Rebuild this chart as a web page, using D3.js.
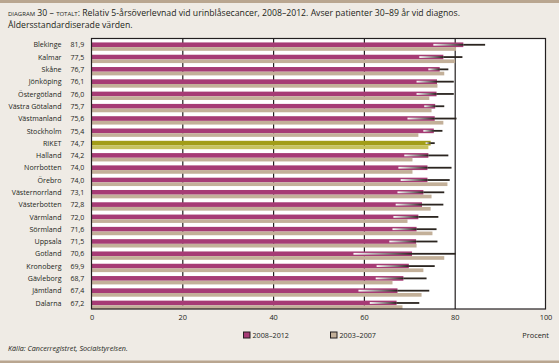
<!DOCTYPE html>
<html>
<head>
<meta charset="utf-8">
<script src="https://cdn.jsdelivr.net/npm/d3@7"></script>
<style>
  body { margin: 0; background: #efebe5; }
  svg { display: block; font-family: "Open Sans", sans-serif; }
</style>
</head>
<body>
<div id="chart"></div>
<script>
// data
var regions = ["Blekinge", "Kalmar", "Skåne", "Jönköping", "Östergötland", "Västra Götaland",
    "Västmanland", "Stockholm", "RIKET", "Halland", "Norrbotten", "Örebro", "Västernorrland",
    "Västerbotten", "Värmland", "Sörmland", "Uppsala", "Gotland", "Kronoberg", "Gävleborg",
    "Jämtland", "Dalarna"];
var surv2008 = [81.9, 77.5, 76.7, 76.1, 76.0, 75.7, 75.6, 75.4, 74.7, 74.2, 74.0, 74.0, 73.1,
    72.8, 72.0, 71.6, 71.5, 70.6, 69.9, 68.7, 67.4, 67.2];
var surv2003 = [80.3, 80.1, 77.7, 76.2, 74.4, 74.9, 77.5, 72.0, 74.2, 70.7, 70.7, 78.4, 74.9,
    74.7, 69.6, 75.1, 71.6, 77.7, 73.1, 66.3, 72.7, 68.5];
var ciLow = [75.3, 72.2, 74.2, 71.6, 71.6, 73.3, 69.6, 73.1, 73.6, 68.9, 67.6, 68.1, 67.4,
    67.0, 66.5, 66.3, 65.6, 57.7, 62.8, 62.6, 58.8, 61.3];
var ciHigh = [86.7, 81.7, 78.6, 79.8, 79.8, 77.7, 80.4, 77.3, 75.6, 78.6, 79.3, 78.9, 77.7,
    77.5, 76.4, 76.0, 76.2, 80.2, 75.6, 73.8, 74.4, 72.2];
var xTicks = [0, 20, 40, 60, 80, 100];
var seriesNames = ["2008–2012", "2003–2007"];

var svgWidth = 559;
var svgHeight = 363;
var margin = { top: 38.5, right: 14, bottom: 54, left: 91.5 };
var width = 454;
var height = svgHeight - margin.top - margin.bottom;

var dark = "#231f20";
var magenta = "#a63b75";
var tan = "#c3b099";
var olive = "#a29d17";
var lightOlive = "#c7c35f";

var rows = regions.map(function(r, i) {
    return { region: r, v1: surv2008[i], v0: surv2003[i], lo: ciLow[i], hi: ciHigh[i] };
});

var svg = d3.select("#chart")
    .append("svg")
    .attr("width", svgWidth)
    .attr("height", svgHeight);

// top and bottom rules
svg.append("rect").attr("x", 0).attr("y", 0).attr("width", svgWidth).attr("height", 3).attr("fill", "#b9a690");
svg.append("rect").attr("x", 0).attr("y", 360.5).attr("width", svgWidth).attr("height", 3).attr("fill", "#b9a690");

// gradient for the confidence lines
var grad = svg.append("defs").append("linearGradient")
    .attr("id", "ciGrad")
    .attr("x1", "0").attr("x2", "1").attr("y1", "0").attr("y2", "0");
grad.append("stop").attr("offset", "0").attr("stop-color", "#ffffff");
grad.append("stop").attr("offset", "1").attr("stop-color", "#2b2520");

// title
var title = svg.append("text")
    .attr("x", 8)
    .attr("y", 16)
    .attr("font-size", "8.7px")
    .attr("fill", dark);
title.append("tspan")
    .style("font-variant", "small-caps")
    .text("diagram 30 – totalt:");
title.append("tspan")
    .text(" Relativ 5-årsöverlevnad vid urinblåsecancer, 2008–2012. Avser patienter 30–89 år vid diagnos.");
svg.append("text")
    .attr("x", 8)
    .attr("y", 28)
    .attr("font-size", "8.7px")
    .attr("fill", dark)
    .text("Åldersstandardiserade värden.");

var chartGroup = svg.append("g")
    .attr("transform", `translate(${margin.left},${margin.top})`);

var xScale = d3.scaleLinear()
    .domain([0, 100])
    .range([0, width]);

var yScale = d3.scaleBand()
    .domain(regions)
    .range([0, height]);

var bw = yScale.bandwidth();

// plot background
chartGroup.append("rect")
    .attr("width", width)
    .attr("height", height)
    .attr("fill", "#ffffff");

// gridlines
chartGroup.append("g")
    .call(d3.axisBottom(xScale).tickValues([20, 40, 60, 80]).tickSize(height).tickFormat(""))
    .call(g => g.select(".domain").remove())
    .call(g => g.selectAll("line").attr("stroke", dark).attr("stroke-width", 1.2));

// bars
chartGroup.selectAll(".bar1")
    .data(rows)
    .enter()
    .append("rect")
    .attr("class", "bar1")
    .attr("x", 0)
    .attr("y", d => yScale(d.region) + bw * 0.32)
    .attr("width", d => xScale(d.v1))
    .attr("height", bw * 0.38)
    .attr("fill", d => d.region === "RIKET" ? olive : magenta);

chartGroup.selectAll(".bar0")
    .data(rows)
    .enter()
    .append("rect")
    .attr("class", "bar0")
    .attr("x", 0)
    .attr("y", d => yScale(d.region) + bw * 0.70)
    .attr("width", d => xScale(d.v0))
    .attr("height", bw * 0.30)
    .attr("fill", d => d.region === "RIKET" ? lightOlive : tan);

// confidence intervals: fade in up to the estimate, solid after it
chartGroup.selectAll(".ciLeft")
    .data(rows)
    .enter()
    .append("rect")
    .attr("class", "ciLeft")
    .attr("x", d => xScale(d.lo))
    .attr("y", d => yScale(d.region) + bw * 0.51 - 0.9)
    .attr("width", d => xScale(d.v1) - xScale(d.lo))
    .attr("height", 1.8)
    .attr("fill", "url(#ciGrad)");

chartGroup.selectAll(".ciRight")
    .data(rows)
    .enter()
    .append("rect")
    .attr("class", "ciRight")
    .attr("x", d => xScale(d.v1))
    .attr("y", d => yScale(d.region) + bw * 0.51 - 0.9)
    .attr("width", d => xScale(d.hi) - xScale(d.v1))
    .attr("height", 1.8)
    .attr("fill", "#2b2520");

// frame
chartGroup.append("rect")
    .attr("width", width)
    .attr("height", height)
    .attr("fill", "none")
    .attr("stroke", dark)
    .attr("stroke-width", 1.2);

// region names and values
chartGroup.selectAll(".regionLabel")
    .data(rows)
    .enter()
    .append("text")
    .attr("class", "regionLabel")
    .attr("x", -30)
    .attr("y", d => yScale(d.region) + bw * 0.5 + 2.8)
    .attr("text-anchor", "end")
    .attr("font-size", "7.1px")
    .attr("fill", dark)
    .text(d => d.region);

chartGroup.selectAll(".valueLabel")
    .data(rows)
    .enter()
    .append("text")
    .attr("class", "valueLabel")
    .attr("x", -21)
    .attr("y", d => yScale(d.region) + bw * 0.5 + 2.8)
    .attr("font-size", "7px")
    .attr("fill", dark)
    .text(d => d.v1.toFixed(1).replace(".", ","));

// x axis labels
chartGroup.append("g")
    .attr("transform", `translate(0, ${height})`)
    .call(d3.axisBottom(xScale).tickValues(xTicks).tickSize(0).tickPadding(6))
    .call(g => g.select(".domain").remove())
    .call(g => g.selectAll("text").attr("font-size", "7.4px").attr("fill", dark).attr("font-family", "Open Sans"));

// legend
var legend = svg.append("g");
var legendX = [243.5, 330.5];
var legendColors = [magenta, tan];
seriesNames.forEach(function(name, i) {
    legend.append("rect")
        .attr("x", legendX[i])
        .attr("y", 332)
        .attr("width", 6.5)
        .attr("height", 6)
        .attr("fill", legendColors[i])
        .attr("stroke", dark)
        .attr("stroke-width", 1);
    legend.append("text")
        .attr("x", legendX[i] + 9)
        .attr("y", 338)
        .attr("font-size", "7.2px")
        .attr("fill", dark)
        .text(name);
});

svg.append("text")
    .attr("x", 549)
    .attr("y", 338)
    .attr("text-anchor", "end")
    .attr("font-size", "7.4px")
    .attr("fill", dark)
    .text("Procent");

svg.append("text")
    .attr("x", 8)
    .attr("y", 351)
    .attr("font-size", "7.2px")
    .attr("font-style", "italic")
    .attr("fill", dark)
    .text("Källa: Cancerregistret, Socialstyrelsen.");
</script>
</body>
</html>
